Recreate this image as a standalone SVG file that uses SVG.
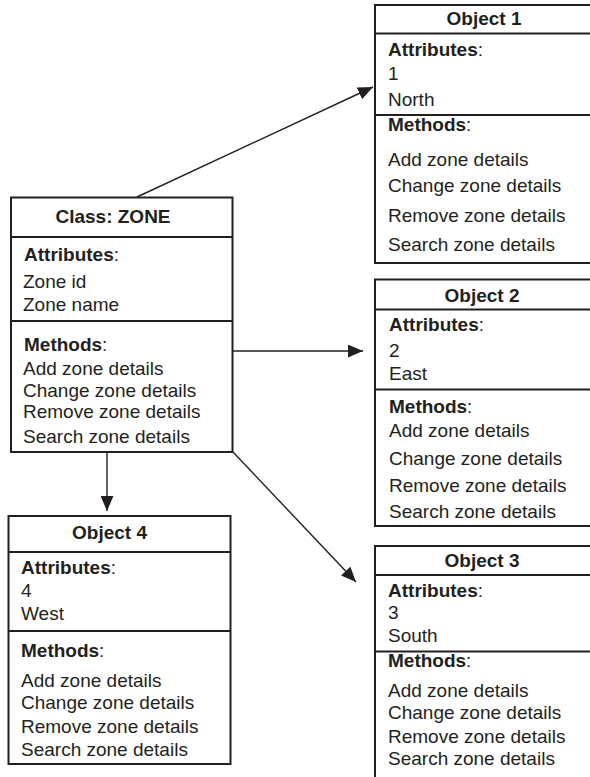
<svg xmlns="http://www.w3.org/2000/svg" width="590" height="777" viewBox="0 0 590 777">
  <style>
    .box { fill: #ffffff; stroke: #231f20; stroke-width: 2; }
    .div { stroke: #231f20; stroke-width: 2; fill: none; }
    text { font-family: "Liberation Sans", Arial, Helvetica, sans-serif; font-size: 19px; fill: #231f20; }
    .title { font-weight: bold; text-anchor: middle; }
    .b { font-weight: bold; }
    .edge { stroke: #231f20; stroke-width: 1.4; fill: none; marker-end: url(#arrow); }
  </style>
  <defs>
    <marker id="arrow" viewBox="0 0 14 12" refX="14" refY="6" markerWidth="15" markerHeight="13" markerUnits="userSpaceOnUse" orient="auto">
      <path d="M0,0 L14,6 L0,12 z" fill="#231f20"/>
    </marker>
  </defs>

  <rect width="590" height="777" fill="#ffffff"/>

  <!-- connectors -->
  <g id="connectors">
    <line class="edge" x1="137" y1="197" x2="373" y2="87"/>
    <line class="edge" x1="233" y1="351" x2="363" y2="351"/>
    <line class="edge" x1="233" y1="452" x2="356" y2="582"/>
    <line class="edge" x1="107" y1="452" x2="107" y2="511"/>
  </g>

  <!-- class ZONE -->
  <g id="class-zone">
    <rect class="box" x="11" y="197.5" width="221.5" height="254.5"/>
    <line class="div" x1="11" y1="237" x2="232.5" y2="237"/>
    <line class="div" x1="11" y1="321" x2="232.5" y2="321"/>
    <text class="title" x="113" y="223">Class: ZONE</text>
    <text x="24" y="261"><tspan class="b">Attributes</tspan>:</text>
    <text x="23" y="288">Zone id</text>
    <text x="23" y="311">Zone name</text>
    <text x="24" y="351"><tspan class="b">Methods</tspan>:</text>
    <text x="23" y="375">Add zone details</text>
    <text x="23" y="397">Change zone details</text>
    <text x="23" y="418">Remove zone details</text>
    <text x="23" y="443">Search zone details</text>
  </g>

  <!-- object 1 -->
  <g id="object-1">
    <rect class="box" x="375" y="5" width="225" height="258"/>
    <line class="div" x1="375" y1="33.5" x2="600" y2="33.5"/>
    <line class="div" x1="375" y1="115" x2="600" y2="115"/>
    <text class="title" x="484" y="25">Object 1</text>
    <text x="388" y="56"><tspan class="b">Attributes</tspan>:</text>
    <text x="388" y="80">1</text>
    <text x="388" y="106">North</text>
    <text x="388" y="131"><tspan class="b">Methods</tspan>:</text>
    <text x="388" y="166">Add zone details</text>
    <text x="388" y="192">Change zone details</text>
    <text x="388" y="222">Remove zone details</text>
    <text x="388" y="251">Search zone details</text>
  </g>

  <!-- object 2 -->
  <g id="object-2">
    <rect class="box" x="375" y="279.5" width="225" height="246.5"/>
    <line class="div" x1="375" y1="309.5" x2="600" y2="309.5"/>
    <line class="div" x1="375" y1="389.5" x2="600" y2="389.5"/>
    <text class="title" x="482" y="302">Object 2</text>
    <text x="389" y="331"><tspan class="b">Attributes</tspan>:</text>
    <text x="389" y="357">2</text>
    <text x="389" y="380">East</text>
    <text x="389" y="413"><tspan class="b">Methods</tspan>:</text>
    <text x="389" y="437">Add zone details</text>
    <text x="389" y="465">Change zone details</text>
    <text x="389" y="492">Remove zone details</text>
    <text x="389" y="518">Search zone details</text>
  </g>

  <!-- object 3 -->
  <g id="object-3">
    <rect class="box" x="375" y="546" width="225" height="250"/>
    <line class="div" x1="375" y1="575" x2="600" y2="575"/>
    <line class="div" x1="375" y1="651.5" x2="600" y2="651.5"/>
    <text class="title" x="482" y="567">Object 3</text>
    <text x="388" y="597"><tspan class="b">Attributes</tspan>:</text>
    <text x="388" y="619">3</text>
    <text x="388" y="642">South</text>
    <text x="388" y="667"><tspan class="b">Methods</tspan>:</text>
    <text x="388" y="697">Add zone details</text>
    <text x="388" y="719">Change zone details</text>
    <text x="388" y="743">Remove zone details</text>
    <text x="388" y="765">Search zone details</text>
  </g>

  <!-- object 4 -->
  <g id="object-4">
    <rect class="box" x="8.5" y="516" width="222" height="248"/>
    <line class="div" x1="8.5" y1="552" x2="230.5" y2="552"/>
    <line class="div" x1="8.5" y1="631" x2="230.5" y2="631"/>
    <text class="title" x="109.5" y="539">Object 4</text>
    <text x="21" y="574"><tspan class="b">Attributes</tspan>:</text>
    <text x="21" y="597">4</text>
    <text x="21" y="620">West</text>
    <text x="21" y="657"><tspan class="b">Methods</tspan>:</text>
    <text x="21" y="687">Add zone details</text>
    <text x="21" y="709">Change zone details</text>
    <text x="21" y="733">Remove zone details</text>
    <text x="21" y="756">Search zone details</text>
  </g>
</svg>
